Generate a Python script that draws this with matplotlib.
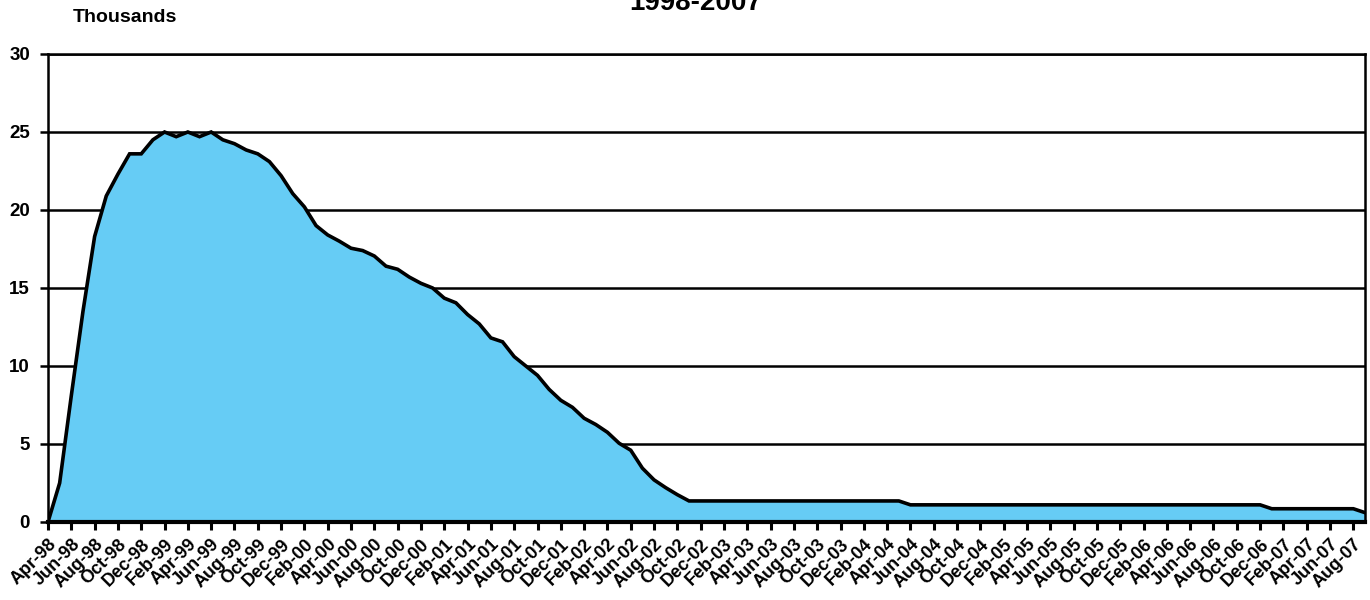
import numpy as np
import pandas as pd
import matplotlib
matplotlib.use("Agg")
import matplotlib.pyplot as plt
from matplotlib.transforms import ScaledTranslation

plt.rcParams['font.family'] = ['Liberation Sans', 'DejaVu Sans']

# monthly series, Apr-98 .. Sep-07 (thousands)
months = pd.date_range("1998-04-01", "2007-09-01", freq="MS")
month_labels = [m.strftime("%b-%y") for m in months]

values = [
    0.0, 2.5, 8.1, 13.5, 18.3, 20.9, 22.3, 23.6, 23.6, 24.5,
    25.0, 24.7, 25.0, 24.7, 25.0, 24.5, 24.25, 23.85, 23.6, 23.1,
    22.2, 21.05, 20.2, 19.0, 18.4, 18.0, 17.55, 17.4, 17.05, 16.4,
    16.2, 15.7, 15.3, 15.0, 14.35, 14.05, 13.3, 12.7, 11.8, 11.55,
    10.6, 10.0, 9.4, 8.5, 7.8, 7.35, 6.65, 6.25, 5.75, 5.05,
    4.6, 3.45, 2.7, 2.2, 1.75, 1.35, 1.35, 1.35, 1.35, 1.35,
    1.35, 1.35, 1.35, 1.35, 1.35, 1.35, 1.35, 1.35, 1.35, 1.35,
    1.35, 1.35, 1.35, 1.35, 1.1, 1.1, 1.1, 1.1, 1.1, 1.1,
    1.1, 1.1, 1.1, 1.1, 1.1, 1.1, 1.1, 1.1, 1.1, 1.1,
    1.1, 1.1, 1.1, 1.1, 1.1, 1.1, 1.1, 1.1, 1.1, 1.1,
    1.1, 1.1, 1.1, 1.1, 1.1, 0.85, 0.85, 0.85, 0.85, 0.85,
    0.85, 0.85, 0.85, 0.6,
]

y_ticks = [0, 5, 10, 15, 20, 25, 30]

x = np.arange(len(values))

fig = plt.figure(figsize=(13.7, 6), dpi=100)
ax = fig.add_axes([48 / 1370, 78 / 600, 1317 / 1370, 468 / 600])

ax.fill_between(x, values, 0, color='#66CCF5', linewidth=0, zorder=2)
ax.plot(x, values, color='black', lw=2.6, zorder=3, solid_joinstyle='miter')

ax.set_xlim(0, len(values) - 1)
ax.set_ylim(0, 30)
ax.set_axisbelow(True)
ax.yaxis.grid(True, color='black', lw=1.8)

ax.set_yticks(y_ticks)
ax.set_yticklabels([str(t) for t in y_ticks], fontsize=13.5, fontweight='bold')
ax.tick_params(axis='y', length=6, width=1.8, pad=7)

ax.set_xticks(x[::2])
ax.set_xticklabels(month_labels[::2], rotation=45, ha='right', va='center',
                   rotation_mode='anchor', fontsize=13, fontweight='bold')
ax.tick_params(axis='x', length=6, width=2.2, pad=4)

# nudge the slanted labels so their ends sit just right of the ticks, like Excel
shift = ScaledTranslation(6 / 100, -6 / 100, fig.dpi_scale_trans)
for lbl in ax.get_xticklabels():
    lbl.set_transform(lbl.get_transform() + shift)

for side in ['left', 'right', 'top']:
    ax.spines[side].set_linewidth(1.8)
ax.spines['bottom'].set_linewidth(3)
ax.spines['bottom'].set_zorder(4)

fig.text(73 / 1370, 1 - 18 / 600, "Thousands", fontsize=14, fontweight='bold',
         va='center', ha='left')
fig.text(696 / 1370, 1 - 10 / 600, "1998-2007", fontsize=20, fontweight='bold',
         va='baseline', ha='center')

fig.savefig("out.png", dpi=100)
